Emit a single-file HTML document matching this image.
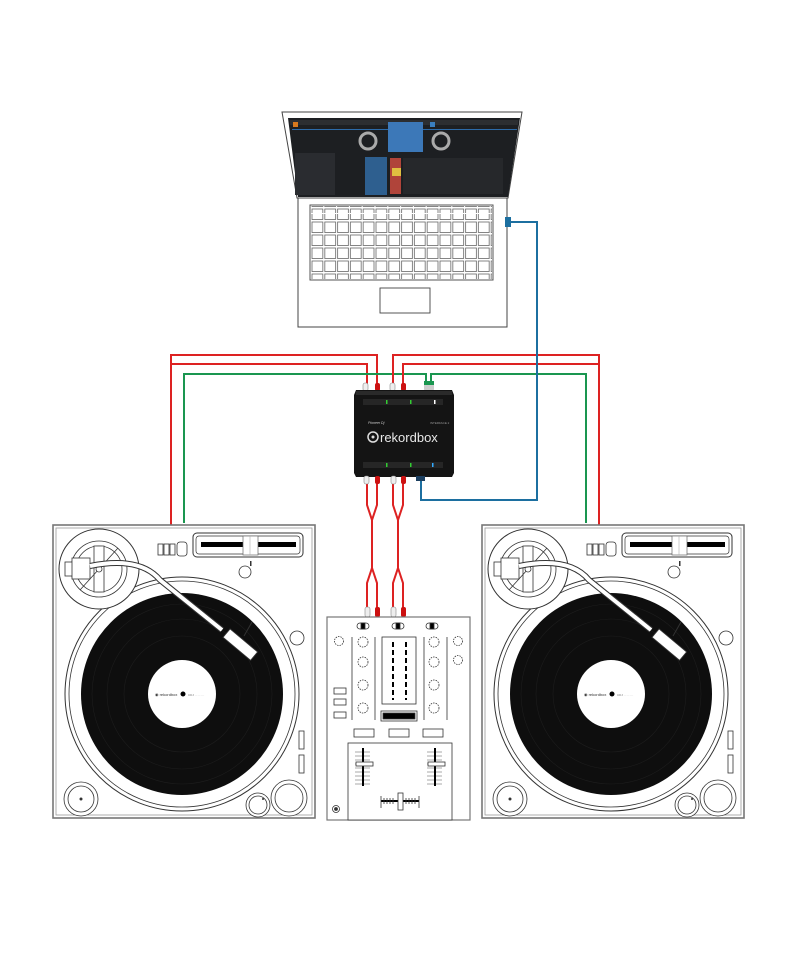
<!DOCTYPE html>
<html><head><meta charset="utf-8"><style>
html,body{margin:0;padding:0;background:#fff;}
svg{display:block;}
</style></head><body>
<svg width="800" height="960" viewBox="0 0 800 960" xmlns="http://www.w3.org/2000/svg" font-family="Liberation Sans, sans-serif">
<defs>
<pattern id="keys" x="311" y="0" width="12.8" height="13" patternUnits="userSpaceOnUse">
<rect x="1" y="1" width="10.8" height="10.5" fill="#fff" stroke="#666" stroke-width="0.8"/>
</pattern>
<g id="tt">
  <rect x="53" y="525" width="262" height="293" fill="#fff" stroke="#777" stroke-width="1.6"/>
  <rect x="56" y="528" width="256" height="287" fill="none" stroke="#999" stroke-width="0.8"/>
  <circle cx="182" cy="694" r="117" fill="#fff" stroke="#333" stroke-width="1"/>
  <circle cx="182" cy="694" r="113" fill="#fff" stroke="#333" stroke-width="0.8"/>
  <circle cx="182" cy="694" r="101" fill="#0e0e0e"/>
  <circle cx="182" cy="694" r="90" fill="none" stroke="#1d1d1d" stroke-width="0.6"/>
  <circle cx="182" cy="694" r="75" fill="none" stroke="#1d1d1d" stroke-width="0.6"/>
  <circle cx="182" cy="694" r="58" fill="none" stroke="#1d1d1d" stroke-width="0.6"/>
  <circle cx="182" cy="694" r="34" fill="#fff"/>
  <circle cx="183" cy="694" r="2.5" fill="#000"/>
  <text x="155" y="696" font-size="4" fill="#333">◉ rekordbox</text>
  <text x="188" y="696" font-size="3" fill="#777">CDJ ·· ··· ···</text>
  <circle cx="99" cy="569" r="40" fill="#fff" stroke="#333" stroke-width="1"/>
  <circle cx="99" cy="569" r="28" fill="none" stroke="#333" stroke-width="0.8"/>
  <circle cx="99" cy="569" r="23" fill="none" stroke="#333" stroke-width="0.8"/>
  <path d="M94,546 L104,546 L104,592 L94,592 Z" fill="#fff" stroke="#333" stroke-width="0.8"/>
  <path d="M80,590 L118,548" stroke="#333" stroke-width="0.8" fill="none"/>
  <rect x="65" y="562" width="8" height="14" fill="#fff" stroke="#333" stroke-width="0.8"/>
  <rect x="72" y="558" width="18" height="21" fill="#fff" stroke="#333" stroke-width="0.8"/>
  <circle cx="99" cy="569" r="3" fill="#fff" stroke="#333" stroke-width="0.8"/>
  <path d="M90,566 Q140,556 160,580 L222,630" fill="none" stroke="#333" stroke-width="6"/>
  <path d="M90,566 Q140,556 160,580 L222,630" fill="none" stroke="#fff" stroke-width="4"/>
  <g transform="rotate(40 240 645)">
    <rect x="222" y="639" width="36" height="11" fill="#fff" stroke="#333" stroke-width="0.9"/>
  </g>
  <path d="M244,636 L252,622" stroke="#333" stroke-width="1"/>
  <rect x="193" y="533" width="110" height="24" rx="4" fill="#fff" stroke="#333" stroke-width="1"/>
  <rect x="196" y="536" width="104" height="18" rx="3" fill="none" stroke="#333" stroke-width="0.7"/>
  <rect x="201" y="542" width="95" height="5" fill="#000"/>
  <rect x="243" y="536" width="15" height="19" fill="#fff" stroke="#666" stroke-width="0.7"/>
  <line x1="250" y1="536" x2="250" y2="555" stroke="#aaa" stroke-width="0.6"/>
  <rect x="250" y="561" width="1.5" height="5" fill="#333"/>
  <rect x="158" y="544" width="5" height="11" fill="#fff" stroke="#333" stroke-width="0.8"/>
  <rect x="164" y="544" width="5" height="11" fill="#fff" stroke="#333" stroke-width="0.8"/>
  <rect x="170" y="544" width="5" height="11" fill="#fff" stroke="#333" stroke-width="0.8"/>
  <rect x="177" y="542" width="10" height="14" rx="3" fill="#fff" stroke="#333" stroke-width="0.8"/>
  <circle cx="245" cy="572" r="6" fill="#fff" stroke="#333" stroke-width="0.8"/>
  <circle cx="297" cy="638" r="7" fill="#fff" stroke="#333" stroke-width="0.8"/>
  <rect x="299" y="731" width="5" height="18" fill="#fff" stroke="#333" stroke-width="0.8"/>
  <rect x="299" y="755" width="5" height="18" fill="#fff" stroke="#333" stroke-width="0.8"/>
  <circle cx="81" cy="799" r="17" fill="#fff" stroke="#333" stroke-width="0.8"/>
  <circle cx="81" cy="799" r="13" fill="none" stroke="#333" stroke-width="0.8"/>
  <circle cx="81" cy="799" r="1.5" fill="#333"/>
  <circle cx="289" cy="798" r="18" fill="#fff" stroke="#333" stroke-width="0.8"/>
  <circle cx="289" cy="798" r="14" fill="none" stroke="#333" stroke-width="0.8"/>
  <circle cx="258" cy="805" r="12" fill="#fff" stroke="#333" stroke-width="0.8"/>
  <circle cx="258" cy="805" r="9" fill="none" stroke="#333" stroke-width="0.8"/>
  <circle cx="263" cy="799" r="1" fill="#333"/>
</g>
</defs>

<g fill="none" stroke-width="2">
  <path d="M171,525 V355 H377 V388" stroke="#d22"/>
  <path d="M171,364 H367 V388" stroke="#d22"/>
  <path d="M184,523 V374 H426 V388" stroke="#1a9650"/>
  <path d="M599,525 V355 H393 V388" stroke="#d22"/>
  <path d="M599,364 H403 V388" stroke="#d22"/>
  <path d="M586,523 V374 H431 V388" stroke="#1a9650"/>
  <path d="M421,478 V500 H537 V222 H511" stroke="#1c6fa0"/>
  <path d="M367,480 V505 L372,520 V568 L367,583 V612" stroke="#d22"/>
  <path d="M377,480 V505 L372,520 V568 L377,583 V612" stroke="#d22"/>
  <path d="M393,480 V505 L398,520 V568 L393,583 V612" stroke="#d22"/>
  <path d="M403,480 V505 L398,520 V568 L403,583 V612" stroke="#d22"/>
</g>

<path d="M282,112 L522,112 L508,198 L297,198 Z" fill="#fff" stroke="#444" stroke-width="1"/>
<path d="M288,118 L520,118 L508,197 L298,197 Z" fill="#1d1f22"/>
<rect x="290" y="120" width="228" height="5" fill="#2c2e31"/>
<rect x="293" y="122" width="5" height="5" fill="#d8791e"/>
<rect x="430" y="122" width="5" height="5" fill="#3a7fc0"/>
<rect x="292" y="129" width="225" height="1" fill="#2c6aa8"/>
<rect x="388" y="122" width="35" height="30" fill="#3c78b8"/>
<circle cx="368" cy="141" r="8" fill="none" stroke="#aaa" stroke-width="3"/>
<circle cx="441" cy="141" r="8" fill="none" stroke="#aaa" stroke-width="3"/>
<rect x="295" y="153" width="40" height="42" fill="#2a2c30"/>
<rect x="365" y="157" width="22" height="38" fill="#2e5f8f"/>
<rect x="390" y="158" width="11" height="36" fill="#b0443a"/>
<rect x="392" y="168" width="9" height="8" fill="#e0c040"/>
<rect x="403" y="158" width="100" height="36" fill="#26282b"/>
<rect x="298" y="198" width="209" height="129" fill="#fff" stroke="#444" stroke-width="1"/>
<rect x="310" y="205" width="183" height="75" fill="#fff" stroke="#555" stroke-width="1"/>
<rect x="311" y="206" width="181" height="7" fill="url(#keys)"/>
<rect x="311" y="214" width="181" height="65" fill="url(#keys)"/>
<rect x="380" y="288" width="50" height="25" fill="#fff" stroke="#444" stroke-width="0.9"/>
<rect x="505" y="217" width="6" height="10" fill="#1c6fa0"/>

<rect x="363" y="383" width="5" height="8" rx="2" fill="#eee" stroke="#888" stroke-width="0.6"/>
<rect x="375" y="383" width="5" height="8" rx="2" fill="#c11"/>
<rect x="390" y="383" width="5" height="8" rx="2" fill="#eee" stroke="#888" stroke-width="0.6"/>
<rect x="401" y="383" width="5" height="8" rx="2" fill="#c11"/>
<rect x="424" y="382" width="10" height="9" rx="2" fill="#ccc"/>
<rect x="424" y="381" width="10" height="4" fill="#1a9650"/>
<path d="M356,390 L452,390 L454,395 L454,473 L452,477 L356,477 L354,473 L354,395 Z" fill="#141414"/>
<rect x="356" y="391" width="96" height="4" fill="#2a2a2a"/>
<rect x="363" y="399" width="80" height="6" fill="#262626"/>
<rect x="386" y="400" width="1.5" height="4" fill="#3c3"/>
<rect x="410" y="400" width="1.5" height="4" fill="#3c3"/>
<rect x="434" y="400" width="1.5" height="4" fill="#fff"/>
<text x="368" y="424" font-size="3.5" font-style="italic" fill="#ccc">Pioneer Dj</text>
<text x="430" y="424" font-size="3" fill="#999">INTERFACE 2</text>
<circle cx="373" cy="437" r="5" fill="none" stroke="#ddd" stroke-width="1.5"/>
<circle cx="373" cy="437" r="1.5" fill="#ddd"/>
<text x="380" y="442" font-size="13" fill="#e8e8e8">rekordbox</text>
<rect x="363" y="462" width="80" height="6" fill="#262626"/>
<rect x="386" y="463" width="1.5" height="4" fill="#3c3"/>
<rect x="410" y="463" width="1.5" height="4" fill="#3c3"/>
<rect x="432" y="463" width="1.5" height="4" fill="#3af"/>
<rect x="416" y="476" width="9" height="5" fill="#1c3f60"/>
<rect x="364" y="476" width="5" height="8" rx="2" fill="#eee" stroke="#888" stroke-width="0.6"/>
<rect x="375" y="476" width="5" height="8" rx="2" fill="#c11"/>
<rect x="391" y="476" width="5" height="8" rx="2" fill="#eee" stroke="#888" stroke-width="0.6"/>
<rect x="401" y="476" width="5" height="8" rx="2" fill="#c11"/>

<use href="#tt"/>
<use href="#tt" transform="translate(429,0)"/>

<rect x="365" y="607" width="5" height="10" rx="2" fill="#eee" stroke="#888" stroke-width="0.6"/>
<rect x="375" y="607" width="5" height="10" rx="2" fill="#c11"/>
<rect x="391" y="607" width="5" height="10" rx="2" fill="#eee" stroke="#888" stroke-width="0.6"/>
<rect x="401" y="607" width="5" height="10" rx="2" fill="#c11"/>

<g stroke="#333" stroke-width="0.8" fill="#fff">
<rect x="327" y="617" width="143" height="203" stroke="#777" stroke-width="1.2"/>
<rect x="357" y="623" width="12" height="6" rx="3"/><rect x="361" y="623" width="4" height="6" fill="#000"/>
<rect x="392" y="623" width="12" height="6" rx="3"/><rect x="396" y="623" width="4" height="6" fill="#000"/>
<rect x="426" y="623" width="12" height="6" rx="3"/><rect x="430" y="623" width="4" height="6" fill="#000"/>
<line x1="352" y1="637" x2="352" y2="720"/><line x1="375" y1="637" x2="375" y2="720"/>
<line x1="424" y1="637" x2="424" y2="720"/><line x1="447" y1="637" x2="447" y2="720"/>
<g stroke-dasharray="1.5 1"><circle cx="363" cy="642" r="5"/><circle cx="363" cy="662" r="5"/><circle cx="363" cy="685" r="5"/><circle cx="363" cy="708" r="5"/>
<circle cx="434" cy="642" r="5"/><circle cx="434" cy="662" r="5"/><circle cx="434" cy="685" r="5"/><circle cx="434" cy="708" r="5"/>
<circle cx="339" cy="641" r="4.5"/><circle cx="458" cy="641" r="4.5"/><circle cx="458" cy="660" r="4.5"/></g>
<rect x="382" y="637" width="34" height="67"/>
<g stroke="#000" stroke-width="2" stroke-dasharray="5 3"><line x1="393" y1="642" x2="393" y2="700"/><line x1="406" y1="642" x2="406" y2="700"/></g>
<rect x="381" y="711" width="36" height="10"/><rect x="383" y="713" width="32" height="6" fill="#000"/>
<rect x="334" y="688" width="12" height="6"/><rect x="334" y="699" width="12" height="6"/><rect x="334" y="712" width="12" height="6"/>
<rect x="354" y="729" width="20" height="8"/><rect x="389" y="729" width="20" height="8"/><rect x="423" y="729" width="20" height="8"/>
<rect x="348" y="743" width="104" height="77"/>
<g stroke="#555" stroke-width="0.6"><path d="M355,752h15M355,756h15M355,760h15M355,764h15M355,768h15M355,772h15M355,776h15M355,780h15M355,784h15M427,752h15M427,756h15M427,760h15M427,764h15M427,768h15M427,772h15M427,776h15M427,780h15M427,784h15"/></g>
<rect x="362" y="748" width="2" height="38" fill="#000" stroke="none"/>
<rect x="434" y="748" width="2" height="38" fill="#000" stroke="none"/>
<rect x="356" y="762" width="17" height="4"/><rect x="428" y="762" width="17" height="4"/>
<path d="M381,801h38" stroke="#000" stroke-width="2"/>
<path d="M381,796v12M384,798v6M387,798v6M390,798v6M393,798v6M406,798v6M409,798v6M412,798v6M415,798v6M419,796v12"/>
<rect x="398" y="793" width="5" height="17"/>
<circle cx="336" cy="809" r="3.5"/><circle cx="336" cy="809" r="1.5" fill="#333"/>
</g>
</svg>
</body></html>
